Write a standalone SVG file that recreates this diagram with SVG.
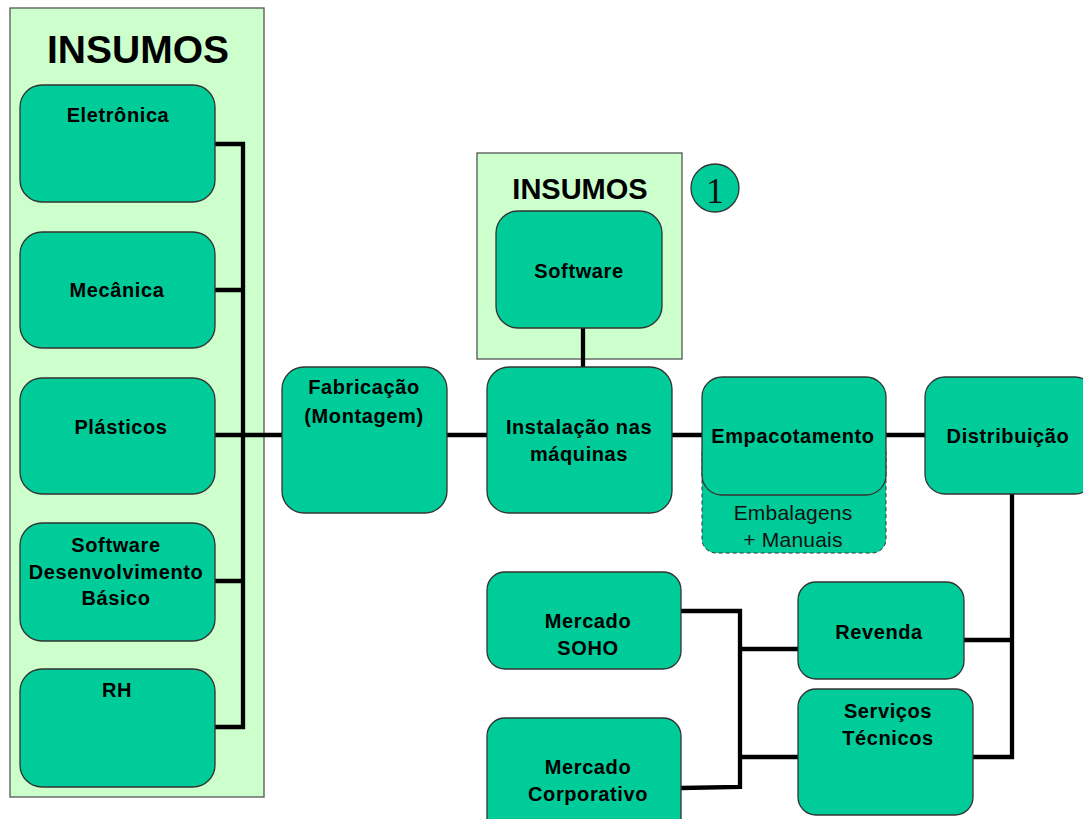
<svg xmlns="http://www.w3.org/2000/svg" width="1083" height="819" viewBox="0 0 1083 819">
<style>
.panel{fill:#CCFFCC;stroke:#555;stroke-width:1.3}
.box{fill:#00CC99;stroke:#333;stroke-width:1.3}
.dash{fill:#00CC99;stroke:#333;stroke-width:1;stroke-dasharray:4 3}
.t{font-family:"Liberation Sans",Arial,sans-serif;font-weight:bold;font-size:20px;letter-spacing:0.6px;fill:#000;text-anchor:middle}
.n{font-family:"Liberation Sans",Arial,sans-serif;font-size:21px;letter-spacing:0.2px;fill:#111;text-anchor:middle}
.h{font-family:"Liberation Sans",Arial,sans-serif;font-weight:bold;fill:#000;text-anchor:middle}
.c{fill:none;stroke:#000;stroke-width:4.3;stroke-linejoin:miter}
</style>
<rect width="1083" height="819" fill="#fff"/>
<g id="panel-left"><rect class="panel" x="10" y="8" width="254" height="789"/><text class="h" x="138" y="63" font-size="39">INSUMOS</text></g>
<g id="panel-software"><rect class="panel" x="477" y="153" width="205" height="206"/><text class="h" x="580" y="199" font-size="29">INSUMOS</text></g>
<g id="badge-1"><circle cx="715" cy="188" r="24" fill="#00CC99" stroke="#333" stroke-width="1.3"/><text x="715" y="203" font-family="'Liberation Serif',serif" font-size="36" text-anchor="middle" fill="#111">1</text></g>
<g id="connectors">
<path class="c" d="M215 144H243V727H215M215 290H243M215 435H283M215 581H243"/>
<path class="c" d="M447 435H487M672 435H702M886 435H925"/>
<path class="c" d="M583 328V367"/>
<path class="c" d="M1012 494V757H973M964 640H1012"/>
<path class="c" d="M681 611H740V787L681 788M740 649H798M740 757H798"/>
</g>
<g id="n-eletronica"><rect class="box" x="20" y="85" width="195" height="117" rx="22"/><text class="t" x="118" y="122">Eletrônica</text></g>
<g id="n-mecanica"><rect class="box" x="20" y="232" width="195" height="116" rx="22"/><text class="t" x="117" y="297">Mecânica</text></g>
<g id="n-plasticos"><rect class="box" x="20" y="378" width="195" height="116" rx="22"/><text class="t" x="121" y="434">Plásticos</text></g>
<g id="n-software-basico"><rect class="box" x="20" y="523" width="195" height="118" rx="22"/><text class="t" x="116" y="552">Software</text><text class="t" x="116" y="579">Desenvolvimento</text><text class="t" x="116" y="605">Básico</text></g>
<g id="n-rh"><rect class="box" x="20" y="669" width="195" height="118" rx="22"/><text class="t" x="117" y="697">RH</text></g>
<g id="n-fabricacao"><rect class="box" x="282" y="367" width="165" height="146" rx="22"/><text class="t" x="364" y="394">Fabricação</text><text class="t" x="364" y="423">(Montagem)</text></g>
<g id="n-instalacao"><rect class="box" x="487" y="367" width="185" height="146" rx="22"/><text class="t" x="579" y="434">Instalação nas</text><text class="t" x="579" y="461">máquinas</text></g>
<g id="n-software"><rect class="box" x="496" y="211" width="166" height="117" rx="22"/><text class="t" x="579" y="278">Software</text></g>
<g id="n-empacotamento"><rect class="dash" x="702" y="440" width="184" height="113" rx="14"/><rect class="box" x="702" y="377" width="184" height="118" rx="20"/><text class="t" x="793" y="443">Empacotamento</text><text class="n" x="793" y="520">Embalagens</text><text class="n" x="793" y="547">+ Manuais</text></g>
<g id="n-distribuicao"><rect class="box" x="925" y="377" width="170" height="117" rx="20"/><text class="t" x="1008" y="443">Distribuição</text></g>
<g id="n-soho"><rect class="box" x="487" y="572" width="194" height="97" rx="18"/><text class="t" x="588" y="628">Mercado</text><text class="t" x="588" y="655">SOHO</text></g>
<g id="n-corporativo"><rect class="box" x="487" y="718" width="194" height="120" rx="18"/><text class="t" x="588" y="774">Mercado</text><text class="t" x="588" y="801">Corporativo</text></g>
<g id="n-revenda"><rect class="box" x="798" y="582" width="166" height="97" rx="18"/><text class="t" x="879" y="639">Revenda</text></g>
<g id="n-servicos"><rect class="box" x="798" y="689" width="175" height="126" rx="18"/><text class="t" x="888" y="718">Serviços</text><text class="t" x="888" y="745">Técnicos</text></g>
</svg>
